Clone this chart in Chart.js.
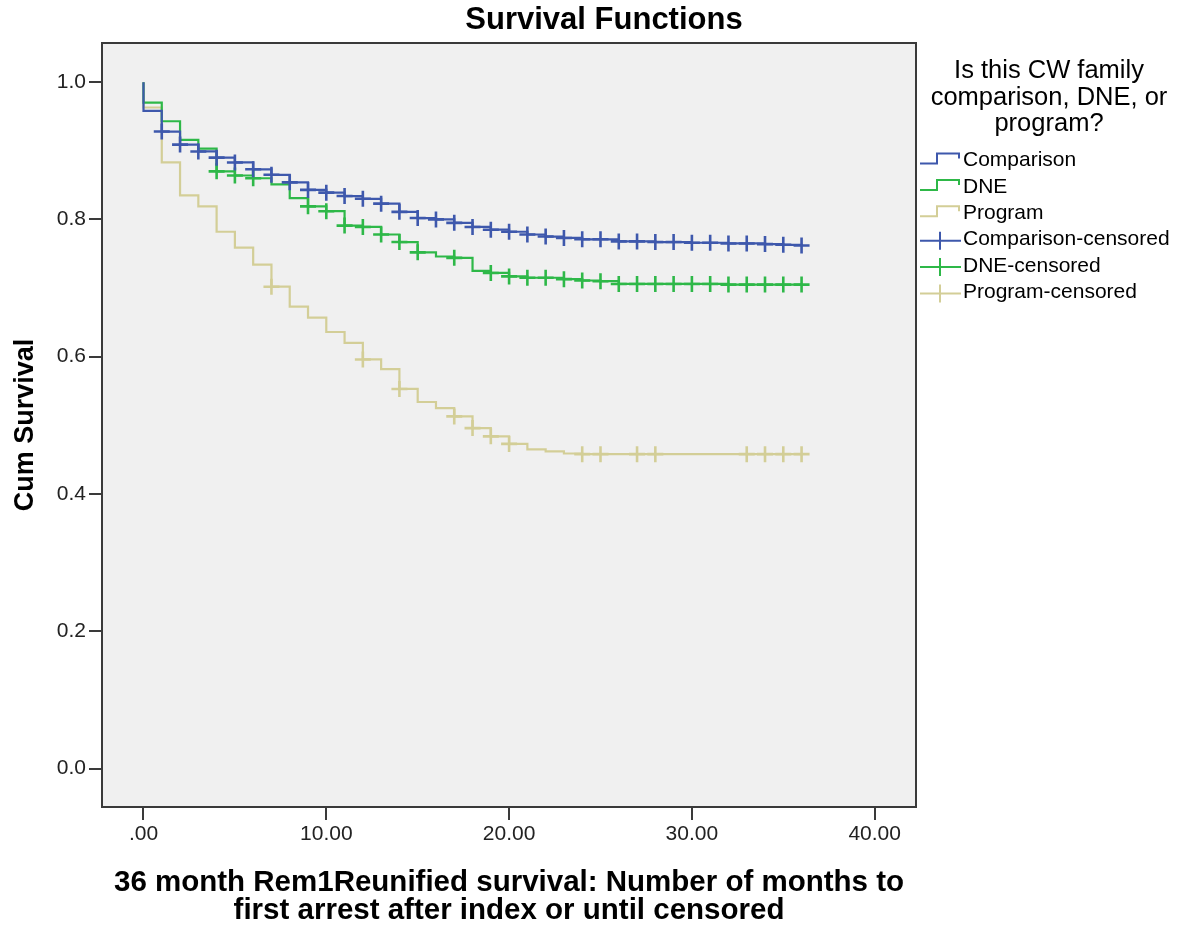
<!DOCTYPE html>
<html>
<head>
<meta charset="utf-8">
<title>Survival Functions</title>
<script src="https://cdn.jsdelivr.net/npm/chart.js@4.4.1/dist/chart.umd.min.js"></script>
<style>
  body { margin: 0; background: #fff; }
  #chart { display: block; }
</style>
</head>
<body>
<canvas id="chart" width="1186" height="926"></canvas>
<script>
// months since index (steps fall on whole months)
const months = [0,1,2,3,4,5,6,7,8,9,10,11,12,13,14,15,16,17,18,19,20,21,22,23,24,25,26,27,28,29,30,31,32,33,34,35,36]
const startSurvival = 1.0

// cum survival after each month
const comparisonSurv = [0.958,0.928,0.909,0.899,0.890,0.883,0.873,0.865,0.854,0.843,0.839,0.834,0.830,0.823,0.811,0.802,0.800,0.795,0.789,0.785,0.782,0.778,0.775,0.773,0.771,0.771,0.768,0.768,0.767,0.767,0.766,0.766,0.765,0.765,0.764,0.763,0.762]
const dneSurv = [0.970,0.943,0.916,0.903,0.870,0.864,0.860,0.851,0.831,0.819,0.812,0.791,0.789,0.778,0.767,0.752,0.746,0.744,0.725,0.722,0.717,0.715,0.715,0.713,0.711,0.710,0.706,0.706,0.706,0.706,0.706,0.706,0.705,0.705,0.705,0.705,0.705]
const programSurv = [0.963,0.883,0.835,0.819,0.782,0.759,0.734,0.702,0.673,0.657,0.636,0.620,0.596,0.582,0.553,0.534,0.525,0.513,0.496,0.484,0.473,0.465,0.462,0.459,0.458,0.458,0.458,0.458,0.458,0.458,0.458,0.458,0.458,0.458,0.458,0.458,0.458]

// months with a censored case
const comparisonCensored = [1,2,3,4,5,6,7,8,9,10,11,12,13,14,15,16,17,18,19,20,21,22,23,24,25,26,27,28,29,30,31,32,33,34,35,36]
const dneCensored = [4,5,6,9,10,11,12,13,14,15,17,19,20,21,22,23,24,25,26,27,28,29,30,31,32,33,34,35,36]
const programCensored = [7,12,14,17,18,19,20,24,25,27,28,33,34,35,36]

const groups = ['Comparison', 'DNE', 'Program']
const xTickValues = [0, 10, 20, 30, 40]
const yTickValues = [0, 0.2, 0.4, 0.6, 0.8, 1.0]
const xMin = -2.27, xMax = 42.26
const yMin = -0.056, yMax = 1.057

const titleText = 'Survival Functions'
const xTitle = ['36 month Rem1Reunified survival: Number of months to', 'first arrest after index or until censored']
const yTitle = 'Cum Survival'
const legendTitle = ['Is this CW family', 'comparison, DNE, or', 'program?']

const colors = { Comparison: 'rgb(62,88,172)', DNE: 'rgb(46,184,72)', Program: 'rgb(211,206,151)' }
const FONT = '"Liberation Sans", Arial, sans-serif'

function stepData(surv) {
    return [{x: months[0], y: startSurvival}].concat(months.map((m, i) => ({x: m, y: surv[i]})))
}

function censorData(cens, surv) {
    return cens.map(m => ({x: m, y: surv[months.indexOf(m)]}))
}

function stepSet(name, surv) {
    return { label: name, data: stepData(surv), borderColor: colors[name], borderWidth: 2.2,
             stepped: 'before', pointRadius: 0, fill: false }
}

function censorSet(name, cens, surv) {
    return { label: name + '-censored', data: censorData(cens, surv), showLine: false,
             pointStyle: 'cross', pointRadius: 8, pointBorderWidth: 2.6,
             borderColor: colors[name], backgroundColor: colors[name] }
}

const spssDecor = {
    id: 'spssDecor',
    beforeDatasetsDraw(chart) {
        const {ctx, chartArea: a} = chart
        ctx.save()
        ctx.fillStyle = '#f0f0f0'
        ctx.fillRect(a.left, a.top, a.right - a.left, a.bottom - a.top)
        ctx.restore()
    },
    afterDraw(chart) {
        const {ctx, chartArea: a} = chart
        ctx.save()
        // frame
        ctx.strokeStyle = '#3a3a3a'
        ctx.lineWidth = 2
        ctx.strokeRect(a.left, a.top, a.right - a.left, a.bottom - a.top)

        // title
        ctx.fillStyle = '#000'
        ctx.textAlign = 'center'
        ctx.textBaseline = 'middle'
        ctx.font = 'bold 31px ' + FONT
        ctx.fillText(titleText, 604, 20)

        // legend
        ctx.font = '25.5px ' + FONT
        legendTitle.forEach((t, i) => ctx.fillText(t, 1049, 71 + i * 26.5))

        ctx.textAlign = 'left'
        ctx.font = '21px ' + FONT
        const items = groups.map(g => ({name: g, kind: 'step'}))
            .concat(groups.map(g => ({name: g, kind: 'cens'})))
        items.forEach((it, i) => {
            const y = 160.5 + i * 26.4
            ctx.strokeStyle = colors[it.name]
            ctx.lineWidth = 2
            ctx.beginPath()
            if (it.kind == 'step') {
                ctx.moveTo(920, y + 3)
                ctx.lineTo(937, y + 3)
                ctx.lineTo(937, y - 7)
                ctx.lineTo(959, y - 7)
                ctx.lineTo(959, y - 2)
            } else {
                ctx.moveTo(920, y + 1)
                ctx.lineTo(961, y + 1)
                ctx.moveTo(940, y - 8)
                ctx.lineTo(940, y + 10)
            }
            ctx.stroke()
            ctx.fillStyle = '#000'
            ctx.fillText(it.kind == 'step' ? it.name : it.name + '-censored', 963, y)
        })
        ctx.restore()
    }
}

const config = {
    type: 'line',
    data: {
        datasets: [
            censorSet('Comparison', comparisonCensored, comparisonSurv),
            stepSet('Comparison', comparisonSurv),
            censorSet('DNE', dneCensored, dneSurv),
            stepSet('DNE', dneSurv),
            censorSet('Program', programCensored, programSurv),
            stepSet('Program', programSurv)
        ]
    },
    options: {
        responsive: false,
        animation: false,
        layout: { padding: { left: 0, top: 43, right: 270, bottom: 0 } },
        plugins: { legend: { display: false }, tooltip: { enabled: false } },
        scales: {
            x: {
                type: 'linear', min: xMin, max: xMax,
                afterBuildTicks: s => { s.ticks = xTickValues.map(v => ({value: v})) },
                afterFit: s => { s.height = 119 },
                ticks: { callback: v => v == 0 ? '.00' : v.toFixed(2), font: {family: FONT, size: 21},
                         color: '#222', padding: 2, maxRotation: 0, autoSkip: false },
                grid: { drawOnChartArea: false, drawTicks: true, tickLength: 13, color: '#3a3a3a', lineWidth: 2 },
                border: { display: false },
                title: { display: true, text: xTitle, color: '#000',
                         font: {family: FONT, size: 29.5, weight: 'bold', lineHeight: 0.92},
                         padding: {top: 0, bottom: 2} }
            },
            y: {
                type: 'linear', min: yMin, max: yMax,
                afterBuildTicks: s => { s.ticks = yTickValues.map(v => ({value: v})) },
                afterFit: s => { s.width = 102 },
                ticks: { callback: v => v.toFixed(1), font: {family: FONT, size: 21}, color: '#222', padding: 3 },
                grid: { drawOnChartArea: false, drawTicks: true, tickLength: 13, color: '#3a3a3a', lineWidth: 2 },
                border: { display: false },
                title: { display: true, text: yTitle, color: '#000',
                         font: {family: FONT, size: 27, weight: 'bold', lineHeight: 1},
                         padding: {top: 12, bottom: 0} }
            }
        }
    },
    plugins: [spssDecor]
}

new Chart(document.getElementById('chart'), config)
</script>
</body>
</html>
